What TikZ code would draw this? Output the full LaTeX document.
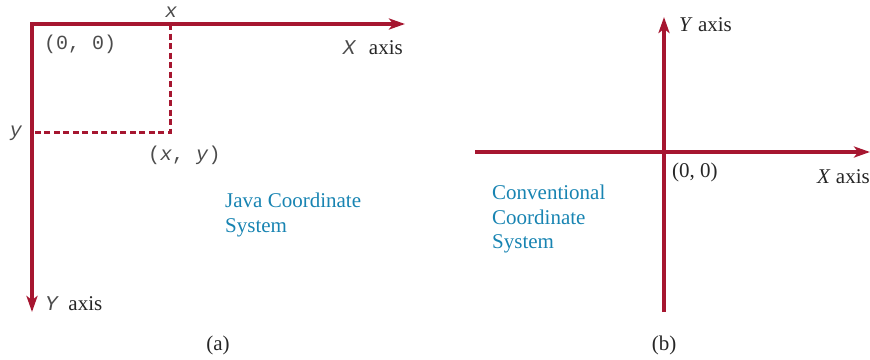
\documentclass[tikz,border=0pt]{standalone}
\usepackage{fontspec}
\setmainfont{Liberation Serif}
\setmonofont{Liberation Mono}
\usetikzlibrary{arrows.meta}
\definecolor{axisred}{RGB}{166,22,48}
\definecolor{labelblue}{RGB}{24,132,178}
\tikzset{
  tiphead/.tip={Stealth[length=16pt,width=11pt,inset=4pt]},
  axisline/.style={draw=axisred, line width=3.2pt, line join=miter},
  tipstyle/.style={-tiphead},
  guide/.style={draw=axisred, line width=3pt, dash pattern=on 6pt off 3.5pt},
  lbl/.style={inner sep=0pt, font=\fontsize{21}{24.5}\selectfont, text=black!85},
  monolbl/.style={inner sep=0pt, font=\fontsize{20}{24}\selectfont\ttfamily, text=black!70},
  blue/.style={inner sep=0pt, align=left, font=\fontsize{21}{24.5}\selectfont, text=labelblue},
}
\begin{document}
\begin{tikzpicture}[x=1pt,y=-1pt]
\useasboundingbox (0,0) rectangle (870,359);
% (a) Java coordinate system
\coordinate (Ao) at (32,24);
\coordinate (Ax) at (405,24);
\coordinate (Ay) at (32,312);
\coordinate (Px) at (170,24);
\coordinate (P) at (170,132);
\coordinate (Py) at (32,132);
\draw[guide] (Px) -- (P) -- (Py);
\draw[axisline, tiphead-tiphead] (Ax) -- (Ao) -- (Ay);
\node[monolbl, anchor=center] (lx) at (171,12) {\itshape x};
\node[monolbl, anchor=west] (lo) at (44,44) {(0, 0)};
\node[lbl, anchor=east] (lX) at (403,48) {\textcolor{black!70}{\texttt{\itshape X}}\hspace{0.6em}axis};
\node[monolbl, anchor=center] (ly) at (16,133) {\itshape y};
\node[monolbl, anchor=west] (lp) at (148,155) {(\textit{x}, \textit{y})};
\node[blue, anchor=north west] (ja) at (225,193) {Java Coordinate\\System};
\node[lbl, anchor=west] (lY) at (45,304) {\textcolor{black!70}{\texttt{\itshape Y}}\hspace{0.45em}axis};
\node[lbl] (ca) at (218,345) {(a)};
% (b) Conventional coordinate system
\coordinate (Bl) at (475,152);
\coordinate (Br) at (870,152);
\coordinate (Bb) at (664,312);
\coordinate (Bt) at (664,17);
\draw[axisline, tipstyle] (Bl) -- (Br);
\draw[axisline, tipstyle] (Bb) -- (Bt);
\node[lbl, anchor=west] (bY) at (679,25) {\textit{Y} axis};
\node[lbl, anchor=west] (bo) at (672,172) {(0, 0)};
\node[lbl, anchor=east] (bX) at (870,177) {\textit{X} axis};
\node[blue, anchor=north west] (cv) at (492,185) {Conventional\\Coordinate\\System};
\node[lbl] (cb) at (664,345) {(b)};
\end{tikzpicture}
\end{document}
